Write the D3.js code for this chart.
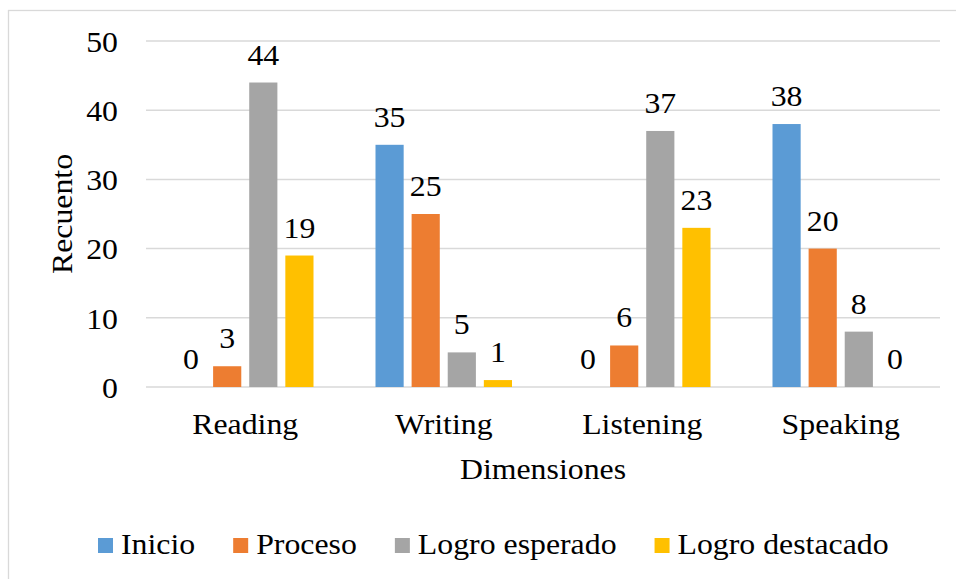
<!DOCTYPE html>
<html>
<head>
<meta charset="utf-8">
<script src="https://cdn.jsdelivr.net/npm/d3@7"></script>
<style>
  body { margin: 0; background: #fff; }
  svg text { font-family: 'Liberation Serif', 'Times New Roman', serif; fill: #000; }
</style>
</head>
<body>
<svg class="svg1" width="956" height="579"></svg>
<script>
// data
var dimensiones = ["Reading", "Writing", "Listening", "Speaking"];
var series = ["Inicio", "Proceso", "Logro esperado", "Logro destacado"];
var colores = ["#5b9bd5", "#ed7d31", "#a5a5a5", "#ffc000"];
var inicio = [0, 35, 0, 38];
var proceso = [3, 25, 6, 20];
var esperado = [44, 5, 37, 8];
var destacado = [19, 1, 23, 0];
var yTicks = [0, 10, 20, 30, 40, 50];

var valores = [inicio, proceso, esperado, destacado];
var fuente = "Liberation Serif";
var estirar = 1.06;

var svg = d3.select(".svg1");

// the picture is a bit wider than the font, so stretch texts a little
function ancho(sel) {
  sel.each(function(){
    var w = this.getComputedTextLength();
    d3.select(this).attr("textLength", w * estirar).attr("lengthAdjust", "spacingAndGlyphs");
  });
}

// outer frame (right and bottom edges fall outside the picture)
svg.append("rect")
  .attr("x", 8.5).attr("y", 10.5)
  .attr("width", 1000).attr("height", 1000)
  .attr("fill", "none")
  .attr("stroke", "#d9d9d9")
  .attr("stroke-width", 1.3);

var pLeft = 146, pRight = 940, pTop = 41, pBottom = 387;

var x0 = d3.scaleBand()
  .domain(dimensiones)
  .range([pLeft, pRight]);

var x1 = d3.scaleBand()
  .domain(series)
  .range([31, x0.bandwidth() - 31])
  .paddingInner(0.22);

var y = d3.scaleLinear()
  .domain([0, 50])
  .range([pBottom, pTop]);

// gridlines
svg.append("g")
  .selectAll("line")
  .data(yTicks)
  .enter()
  .append("line")
  .attr("x1", pLeft).attr("x2", pRight)
  .attr("y1", function(d){ return y(d) })
  .attr("y2", function(d){ return y(d) })
  .attr("stroke", "#d9d9d9")
  .attr("stroke-width", 1.5);

// y axis labels
var yAxis = d3.axisLeft(y)
  .tickValues(yTicks)
  .tickSize(0)
  .tickPadding(0)
  .tickFormat(function(d){ return d });

svg.append("g")
  .attr("transform", "translate(118,0)")
  .call(yAxis)
  .call(function(g){
    g.attr("font-family", fuente).attr("font-size", 30);
    g.select(".domain").remove();
    g.selectAll("text")
      .attr("fill", "#000")
      .attr("dy", "0.34em");
  });

// x axis labels
var xAxis = d3.axisBottom(x0).tickSize(0).tickPadding(0);

svg.append("g")
  .attr("transform", "translate(0," + pBottom + ")")
  .call(xAxis)
  .call(function(g){
    g.attr("font-family", fuente).attr("font-size", 30);
    g.select(".domain").remove();
    g.selectAll("text")
      .attr("fill", "#000")
      .attr("dy", null)
      .attr("y", 47);
  });

// bars
var grupos = svg.append("g")
  .selectAll("g")
  .data(dimensiones)
  .enter()
  .append("g")
  .attr("transform", function(d){ return "translate(" + x0(d) + ",0)" });

grupos.selectAll("rect")
  .data(function(d, i){
    return series.map(function(s, j){ return {serie: s, valor: valores[j][i], color: colores[j]} });
  })
  .enter()
  .append("rect")
  .attr("x", function(d){ return x1(d.serie) })
  .attr("width", x1.bandwidth())
  .attr("y", function(d){ return y(d.valor) })
  .attr("height", function(d){ return pBottom - y(d.valor) })
  .attr("fill", function(d){ return d.color });

grupos.selectAll("text")
  .data(function(d, i){
    return series.map(function(s, j){ return {serie: s, valor: valores[j][i]} });
  })
  .enter()
  .append("text")
  .attr("x", function(d){ return x1(d.serie) + x1.bandwidth() / 2 })
  .attr("y", function(d){ return y(d.valor) - 18 })
  .attr("text-anchor", "middle")
  .attr("font-size", 30)
  .attr("font-family", fuente)
  .text(function(d){ return d.valor });

// axis titles
svg.append("text")
  .attr("x", (pLeft + pRight) / 2)
  .attr("y", 479)
  .attr("text-anchor", "middle")
  .attr("font-size", 30)
  .attr("font-family", fuente)
  .text("Dimensiones");

svg.append("text")
  .attr("transform", "translate(72," + ((pTop + pBottom) / 2) + ") rotate(-90)")
  .attr("text-anchor", "middle")
  .attr("font-size", 30)
  .attr("font-family", fuente)
  .text("Recuento");

// legend
var leyenda = svg.append("g");
var lx = 98;
series.forEach(function(s, j){
  leyenda.append("rect")
    .attr("x", lx).attr("y", 538)
    .attr("width", 15).attr("height", 15)
    .attr("fill", colores[j]);
  var t = leyenda.append("text")
    .attr("x", lx + 23)
    .attr("y", 554)
    .attr("font-size", 30)
    .attr("font-family", fuente)
    .text(s);
  lx = lx + 23 + t.node().getComputedTextLength() * estirar + 38;
});

// stretch after layout
svg.selectAll("text").call(ancho);
</script>
</body>
</html>
